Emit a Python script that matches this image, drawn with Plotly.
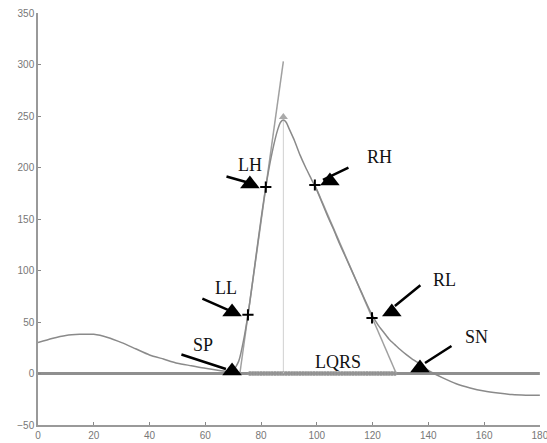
import plotly.graph_objects as go

# Signal curve
curve_x = [0, 5, 10, 15, 20, 25, 30, 35, 40, 45, 50, 55, 60, 65, 68, 70, 72, 74, 76, 78, 80, 82, 84, 86, 87, 88, 89, 90,
           92, 94, 96, 98, 100, 102, 104, 106, 108, 110, 112, 114, 116, 118, 120, 122, 124, 126, 128, 130, 132, 134,
           136, 138, 140, 142, 145, 150, 155, 160, 165, 170, 175, 180]
curve_y = [30, 34, 37, 38, 38, 35, 30, 24, 18, 14, 10, 7.5, 5, 3, 2, 3, 12, 36, 70, 110, 150, 186, 215, 237, 244, 246, 244, 238,
           226, 212, 200, 189, 178, 165, 152, 140, 127, 115, 103, 91, 79, 67, 56, 47, 40, 33, 28, 23, 18.5, 14.5,
           11, 7, 3, 0, -4, -10, -14, -17, -19, -20.5, -21, -21]

# Tangent lines
left_tan_x = [72.4, 88.0]
left_tan_y = [0, 303]
right_tan_x = [99.3, 128.5]
right_tan_y = [183, 0]

# Peak
peak_x = [88]
peak_y = [246]

# Fiducial points (+)
fid_x = [81.7, 99.3, 75.3, 119.8]
fid_y = [181, 183, 57, 54]

# QRS region markers
lqrs_x = list(range(76, 129))
lqrs_y = [0] * len(lqrs_x)

# Labels
labels = ["LH", "RH", "LL", "SP", "RL", "SN"]
tri_x = [76.0, 104.7, 69.6, 69.6, 126.9, 137.0]
tri_y = [184, 187, 59.7, 2.4, 59.7, 5.3]

x_ticks = list(range(0, 181, 20))
y_ticks = list(range(-50, 351, 50))

fig = go.Figure()

fig.add_trace(go.Scatter(x=[0, 180], y=[0, 0], mode="lines",
                         line=dict(color="#8f8f8f", width=3), hoverinfo="skip"))
fig.add_trace(go.Scatter(x=[peak_x[0], peak_x[0]], y=[0, peak_y[0]], mode="lines",
                         line=dict(color="#d0d0d0", width=1)))
fig.add_trace(go.Scatter(x=lqrs_x, y=lqrs_y, mode="markers",
                         marker=dict(symbol="circle-open", size=4, color="#999999", line=dict(width=1))))
fig.add_trace(go.Scatter(x=left_tan_x, y=left_tan_y, mode="lines",
                         line=dict(color="#a0a0a0", width=1.5)))
fig.add_trace(go.Scatter(x=right_tan_x, y=right_tan_y, mode="lines",
                         line=dict(color="#a0a0a0", width=1.5)))
fig.add_trace(go.Scatter(x=curve_x, y=curve_y, mode="lines",
                         line=dict(color="#8a8a8a", width=1.5, shape="spline", smoothing=0.6)))
fig.add_trace(go.Scatter(x=peak_x, y=[peak_y[0] + 3], mode="markers",
                         marker=dict(symbol="triangle-up", size=8, color="#aaaaaa")))
fig.add_trace(go.Scatter(x=fid_x, y=fid_y, mode="markers",
                         marker=dict(symbol="cross-thin", size=8, color="black",
                                     line=dict(color="black", width=2))))
fig.add_trace(go.Scatter(x=tri_x, y=tri_y, mode="markers",
                         marker=dict(symbol="triangle-up", size=17, color="black")))

# Arrows (head point in data, tail offset in pixels)
arrows = [
    (74.6, 185.9, -21, -6),
    (102.2, 187.9, 27, -13),
    (68.1, 61.7, -27, -12),
    (67.4, 4.4, -46, -15),
    (128.0, 65.5, 27, -22),
    (138.8, 10.2, 28, -18),
]
annotations = []
for hx, hy, ax, ay in arrows:
    annotations.append(dict(x=hx, y=hy, xref="x", yref="y", ax=ax, ay=ay, text="",
                            showarrow=True, arrowhead=0, arrowwidth=2.5, arrowcolor="black"))

label_pos = [(76.0, 202.4), (122.6, 210), (67.4, 83), (59.2, 27.7), (145.9, 90.8), (157.4, 35.4)]
for t, (lx, ly) in zip(labels, label_pos):
    annotations.append(dict(x=lx, y=ly, xref="x", yref="y", text=t, showarrow=False,
                            font=dict(family="Liberation Serif", size=18, color="#111111")))
annotations.append(dict(x=107.6, y=11.2, xref="x", yref="y", text="LQRS", showarrow=False,
                        font=dict(family="Liberation Serif", size=18, color="#111111")))

axis_common = dict(showgrid=False, zeroline=False, showline=True, linecolor="#999999", linewidth=1.5,
                   ticks="inside", ticklen=3, tickcolor="#888888", ticklabeloverflow="allow",
                   automargin=False,
                   tickfont=dict(family="Liberation Sans", size=10, color="#777777"))

fig.update_layout(
    width=547, height=443,
    margin=dict(l=38, r=7, t=13, b=18, autoexpand=False),
    plot_bgcolor="white", paper_bgcolor="white",
    showlegend=False,
    annotations=annotations,
    xaxis=dict(range=[0, 180.05], tickmode="array", tickvals=x_ticks, **axis_common),
    yaxis=dict(range=[-50, 350], tickmode="array", tickvals=y_ticks, **axis_common),
)

fig.write_html("out.html")
